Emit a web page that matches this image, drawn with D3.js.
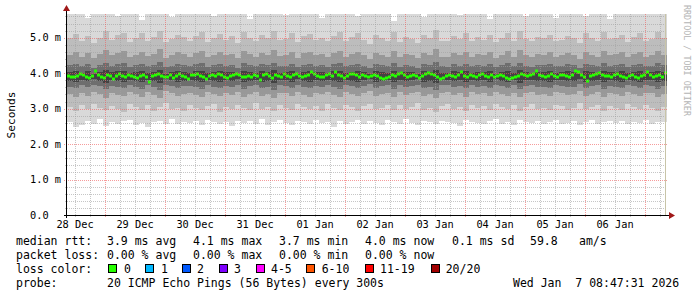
<meta charset="utf-8">
<body></body>
<script src="https://d3js.org/d3.v7.min.js"></script>
<script>
// smokeping style rtt graph, 10 days, 20 pings per step

var startTime = Date.UTC(2025, 11, 28, 8, 47, 31),
    endTime = Date.UTC(2026, 0, 7, 8, 47, 31);

var yTicks = [0, 1, 2, 3, 4, 5];

// median rtt (ms), 200 steps
var median = [
  3.92,3.90,3.88,3.93,3.97,3.95,3.89,3.86,3.91,4.05,3.94,3.90,3.87,3.96,3.92,3.84,3.93,3.98,3.91,3.88,
  3.95,3.92,3.90,3.86,3.93,3.96,3.89,3.75,3.91,3.94,3.97,3.92,3.88,3.90,3.95,3.87,3.93,3.98,3.91,3.89,
  3.85,3.94,3.96,3.99,3.92,3.88,3.84,3.91,3.95,3.93,3.98,3.96,3.90,3.86,3.92,3.95,3.99,3.94,3.90,3.88,
  3.93,3.89,3.96,3.92,3.80,3.94,3.97,3.91,3.87,3.95,3.93,3.90,3.97,3.92,3.88,3.94,3.99,3.93,3.89,3.91,
  3.96,4.02,3.97,3.93,3.90,3.88,3.94,3.98,3.92,4.03,3.95,3.91,3.86,3.93,3.97,3.99,3.94,3.90,3.95,3.92,
  3.89,3.93,3.96,3.92,3.87,3.84,3.86,3.90,3.95,3.93,3.98,4.00,3.94,3.90,3.92,3.96,3.91,3.87,3.93,3.97,
  4.01,3.97,3.94,3.90,3.85,3.87,3.93,3.96,3.92,3.89,3.95,4.04,3.93,3.90,3.96,3.92,3.88,3.94,3.98,3.93,
  3.90,3.94,3.88,3.92,3.96,3.91,3.87,3.83,3.86,3.90,3.93,3.97,3.95,3.91,3.94,3.99,4.06,3.95,3.92,3.90,
  3.93,3.97,3.91,3.88,3.94,3.96,3.92,3.90,3.94,4.07,4.02,3.95,3.89,3.78,3.92,3.96,3.98,4.00,3.95,3.93,
  3.91,3.88,3.94,3.97,3.93,3.90,3.86,3.92,3.95,3.90,3.87,3.93,3.96,4.03,3.94,3.89,3.92,3.95,3.90,4.01
];

// smoke: sorted ping rtt (ms) per step, 100 steps
var ping1 = [
  2.62,2.48,2.55,2.66,2.58,2.70,2.52,2.61,2.57,2.64,2.69,2.55,2.60,2.47,2.63,2.66,2.58,2.71,2.56,2.62,
  2.59,2.65,2.54,2.68,2.61,2.57,2.63,2.50,2.66,2.60,2.64,2.58,2.70,2.55,2.62,2.67,2.59,2.53,2.65,2.61,
  2.56,2.68,2.60,2.63,2.49,2.66,2.58,2.62,2.69,2.57,2.64,2.60,2.55,2.67,2.62,2.58,2.71,2.60,2.54,2.65,
  2.61,2.57,2.66,2.63,2.59,2.52,2.68,2.62,2.60,2.56,2.65,2.70,2.58,2.63,2.55,2.67,2.61,2.59,2.64,2.57,
  2.62,2.68,2.56,2.60,2.65,2.53,2.63,2.69,2.58,2.61,2.66,2.59,2.64,2.57,2.62,2.60,2.67,2.58,2.63,2.61
];
var ping3 = [
  3.05,2.92,3.10,2.98,3.14,3.02,2.95,3.08,3.00,2.90,3.12,3.04,2.97,3.09,2.93,3.06,3.15,2.99,3.03,2.94,
  3.11,3.01,2.96,3.07,3.13,2.91,3.04,2.98,3.10,3.02,2.95,3.16,3.00,3.06,2.92,3.09,3.03,2.97,3.12,3.05,
  2.99,3.08,2.94,3.14,3.01,2.96,3.10,3.04,2.93,3.07,3.13,2.98,3.02,3.09,2.95,3.11,3.00,3.06,3.15,2.97,
  3.03,2.91,3.08,3.12,2.99,3.05,2.94,3.10,3.01,3.07,2.96,3.13,3.04,2.98,3.09,2.92,3.06,3.14,3.00,3.03,
  2.95,3.11,3.07,2.97,3.02,3.16,2.99,3.05,3.10,2.93,3.08,3.01,2.96,3.12,3.04,2.98,3.09,3.03,2.94,3.06
];
var ping5 = [
  3.40,3.33,3.45,3.37,3.48,3.42,3.30,3.44,3.38,3.35,3.47,3.41,3.34,3.46,3.39,3.31,3.49,3.43,3.36,3.42,
  3.45,3.38,3.32,3.47,3.41,3.35,3.44,3.39,3.48,3.33,3.42,3.46,3.37,3.40,3.31,3.45,3.43,3.36,3.48,3.39,
  3.34,3.44,3.40,3.47,3.38,3.32,3.46,3.41,3.35,3.43,3.49,3.37,3.42,3.45,3.33,3.47,3.39,3.44,3.48,3.36,
  3.41,3.30,3.45,3.47,3.38,3.43,3.34,3.46,3.40,3.44,3.37,3.48,3.42,3.35,3.45,3.32,3.43,3.47,3.39,3.41,
  3.36,3.46,3.44,3.38,3.40,3.49,3.35,3.42,3.46,3.33,3.44,3.40,3.37,3.47,3.41,3.36,3.45,3.43,3.34,3.42
];
var ping7 = [
  3.62,3.57,3.66,3.60,3.68,3.63,3.55,3.65,3.61,3.58,3.67,3.62,3.56,3.66,3.60,3.54,3.68,3.64,3.59,3.63,
  3.65,3.60,3.55,3.67,3.62,3.58,3.65,3.61,3.68,3.56,3.63,3.66,3.59,3.62,3.54,3.66,3.64,3.58,3.68,3.61,
  3.57,3.65,3.62,3.67,3.60,3.55,3.66,3.63,3.58,3.64,3.69,3.59,3.63,3.66,3.56,3.67,3.61,3.65,3.68,3.58,
  3.62,3.53,3.66,3.67,3.60,3.64,3.57,3.66,3.62,3.65,3.59,3.68,3.63,3.57,3.66,3.55,3.64,3.67,3.61,3.62,
  3.58,3.66,3.65,3.60,3.62,3.69,3.57,3.63,3.66,3.56,3.65,3.62,3.59,3.67,3.63,3.58,3.66,3.64,3.56,3.63
];
var ping9 = [
  3.79,3.75,3.81,3.77,3.83,3.79,3.73,3.80,3.78,3.76,3.82,3.79,3.74,3.81,3.77,3.72,3.83,3.80,3.76,3.79,
  3.81,3.77,3.74,3.82,3.79,3.75,3.80,3.78,3.83,3.74,3.79,3.81,3.76,3.79,3.73,3.81,3.80,3.75,3.83,3.78,
  3.75,3.80,3.79,3.82,3.77,3.74,3.81,3.79,3.76,3.80,3.84,3.76,3.79,3.81,3.74,3.82,3.78,3.80,3.83,3.76,
  3.79,3.72,3.81,3.82,3.77,3.80,3.75,3.81,3.79,3.80,3.76,3.83,3.79,3.75,3.81,3.73,3.80,3.82,3.78,3.79,
  3.76,3.81,3.80,3.77,3.79,3.84,3.75,3.79,3.81,3.74,3.80,3.79,3.76,3.82,3.79,3.75,3.81,3.80,3.74,3.79
];
var ping12 = [
  4.03,4.06,4.01,4.05,3.99,4.04,4.08,4.02,4.05,4.07,4.00,4.03,4.06,4.01,4.04,4.09,3.99,4.02,4.06,4.03,
  4.01,4.05,4.07,4.00,4.03,4.06,4.02,4.04,3.99,4.07,4.03,4.01,4.05,4.03,4.08,4.01,4.02,4.06,3.99,4.04,
  4.06,4.02,4.03,4.00,4.05,4.07,4.01,4.03,4.06,4.02,3.98,4.05,4.03,4.01,4.07,4.00,4.04,4.02,3.99,4.05,
  4.03,4.09,4.01,4.00,4.05,4.02,4.06,4.01,4.03,4.02,4.05,3.99,4.03,4.06,4.01,4.08,4.02,4.00,4.04,4.03,
  4.05,4.01,4.02,4.05,4.03,3.98,4.06,4.03,4.01,4.07,4.02,4.03,4.05,4.00,4.03,4.06,4.01,4.02,4.07,4.03
];
var ping14 = [
  4.22,4.27,4.19,4.25,4.16,4.23,4.30,4.21,4.26,4.28,4.18,4.22,4.27,4.20,4.24,4.31,4.17,4.21,4.26,4.23,
  4.19,4.25,4.29,4.18,4.22,4.27,4.21,4.24,4.16,4.29,4.22,4.19,4.26,4.22,4.30,4.20,4.21,4.27,4.17,4.24,
  4.27,4.21,4.22,4.18,4.25,4.29,4.19,4.23,4.27,4.21,4.15,4.26,4.22,4.19,4.29,4.18,4.24,4.21,4.16,4.26,
  4.22,4.32,4.19,4.18,4.25,4.21,4.27,4.19,4.23,4.21,4.26,4.17,4.22,4.28,4.19,4.30,4.21,4.18,4.24,4.22,
  4.26,4.19,4.21,4.25,4.22,4.15,4.27,4.22,4.19,4.29,4.21,4.22,4.26,4.18,4.23,4.27,4.19,4.21,4.29,4.22
];
var ping16 = [
  4.52,4.60,4.47,4.57,4.43,4.54,4.66,4.50,4.58,4.62,4.45,4.52,4.61,4.48,4.55,4.68,4.44,4.51,4.59,4.54,
  4.47,4.57,4.63,4.45,4.52,4.60,4.50,4.55,4.42,4.64,4.53,4.47,4.58,4.52,4.66,4.49,4.51,4.61,4.44,4.56,
  4.60,4.50,4.53,4.46,4.57,4.64,4.47,4.54,4.61,4.50,4.41,4.58,4.52,4.47,4.64,4.45,4.55,4.50,4.43,4.58,
  4.52,4.69,4.47,4.46,4.57,4.50,4.61,4.47,4.54,4.50,4.59,4.44,4.52,4.62,4.47,4.66,4.50,4.46,4.55,4.52,
  4.59,4.47,4.50,4.57,4.52,4.41,4.61,4.52,4.47,4.64,4.50,4.53,4.59,4.45,4.54,4.61,4.47,4.50,4.64,4.52
];
var ping18 = [
  4.98,5.10,4.90,5.05,4.86,5.00,5.18,4.95,5.07,5.13,4.88,4.99,5.12,4.92,5.03,5.20,4.87,4.96,5.09,5.01,
  4.91,5.06,5.15,4.89,4.98,5.10,4.95,5.04,4.84,5.16,5.00,4.91,5.07,4.99,5.18,4.94,4.96,5.12,4.87,5.04,
  5.10,4.95,5.00,4.90,5.06,5.15,4.91,5.01,5.12,4.95,4.83,5.08,4.99,4.91,5.16,4.88,5.03,4.96,4.86,5.08,
  4.99,5.21,4.91,4.90,5.06,4.96,5.12,4.91,5.01,4.95,5.09,4.87,4.99,5.14,4.92,5.18,4.96,4.90,5.03,4.99,
  5.09,4.92,4.95,5.06,4.99,4.84,5.12,4.99,4.91,5.15,4.96,5.00,5.09,4.89,5.01,5.12,4.91,4.96,5.15,4.99
];
var ping20 = [
  5.90,5.85,5.92,5.55,5.88,5.95,5.80,5.90,5.62,5.86,5.93,5.88,5.50,5.91,5.84,5.96,5.89,5.58,5.92,5.87,
  5.94,5.83,5.90,5.88,5.60,5.92,5.86,5.95,5.89,5.84,5.52,5.91,5.88,5.93,5.85,5.90,5.64,5.87,5.92,5.89,
  5.86,5.94,5.57,5.90,5.88,5.83,5.92,5.95,5.61,5.87,5.90,5.84,5.93,5.89,5.48,5.91,5.86,5.94,5.88,5.59,
  5.92,5.87,5.90,5.85,5.93,5.63,5.89,5.91,5.86,5.95,5.54,5.88,5.92,5.84,5.90,5.87,5.60,5.93,5.89,5.86,
  5.91,5.56,5.88,5.94,5.85,5.90,5.62,5.87,5.92,5.89,5.53,5.86,5.93,5.88,5.91,5.84,5.66,5.90,5.87,5.92
];

var lossColors = ["#26ff00", "#00b8ff", "#0059ff", "#7e00ff", "#ff00ff", "#ff5500", "#ff0000", "#a10000"];
var lossLabels = ["0", "1", "2", "3", "4-5", "6-10", "11-19", "20/20"];

var W = 697, H = 297;
var pL = 67, pR = 667, pT = 14, pB = 215;
var mono = "'DejaVu Sans Mono', monospace";

var svg = d3.select("body").style("margin", 0).append("svg")
  .attr("width", W)
  .attr("height", H)
  .style("display", "block")
  .style("background", "#fff");

var x = d3.scaleUtc().domain([startTime, endTime]).range([pL, pR]);
var y = d3.scaleLinear().domain([0, (pB - pT) / 35.45]).range([pB, pT]);

svg.append("clipPath").attr("id", "plot")
  .append("rect").attr("x", pL).attr("y", pT).attr("width", pR - pL).attr("height", pB - pT);

var g = svg.append("g").attr("clip-path", "url(#plot)");

// smoke, outermost pair first, darker pairs on top
var lows = [ping1, ping3, ping5, ping7, ping9],
    highs = [ping20, ping18, ping16, ping14, ping12],
    shades = ["#d9d9d9", "#bdbdbd", "#989898", "#6e6e6e", "#434343"];
var smokeStep = (endTime - startTime) / ping1.length;

lows.forEach(function(lo, k) {
  g.append("g").selectAll("rect")
    .data(lo)
    .enter().append("rect")
    .attr("x", function(d, i) { return x(startTime + i * smokeStep); })
    .attr("width", function(d, i) { return x(startTime + (i + 1) * smokeStep) - x(startTime + i * smokeStep); })
    .attr("y", function(d, i) { return y(highs[k][i]); })
    .attr("height", function(d, i) { return y(d) - y(highs[k][i]); })
    .attr("fill", shades[k])
    .attr("shape-rendering", "crispEdges");
});

// median, coloured by loss (no loss here)
var medStep = (endTime - startTime) / median.length;
g.append("g").selectAll("rect")
  .data(median)
  .enter().append("rect")
  .attr("x", function(d, i) { return x(startTime + i * medStep); })
  .attr("width", function(d, i) { return x(startTime + (i + 1) * medStep) - x(startTime + i * medStep); })
  .attr("y", function(d) { return Math.round(y(d)) - 1.5; })
  .attr("height", 3)
  .attr("fill", lossColors[0]);

// grid on top
var grid = svg.append("g").attr("shape-rendering", "crispEdges");
var minorX = d3.utcHour.every(6).range(new Date(startTime), new Date(endTime)),
    majorX = d3.utcDay.range(new Date(startTime), new Date(endTime)),
    minorY = d3.range(0.2, y.domain()[1], 0.2).filter(function(v) { return Math.abs(v - Math.round(v)) > 0.01; });

grid.selectAll(".mx").data(minorX.filter(function(t) { return t.getUTCHours() != 0; }))
  .enter().append("line")
  .attr("x1", function(d) { return Math.round(x(d)) + 0.5; })
  .attr("x2", function(d) { return Math.round(x(d)) + 0.5; })
  .attr("y1", pT).attr("y2", pB + 2)
  .attr("stroke", "rgba(160,160,160,0.6)").attr("stroke-dasharray", "1,1");

grid.selectAll(".my").data(minorY)
  .enter().append("line")
  .attr("x1", pL - 2).attr("x2", pR)
  .attr("y1", function(d) { return Math.round(y(d)) + 0.5; })
  .attr("y2", function(d) { return Math.round(y(d)) + 0.5; })
  .attr("stroke", "rgba(160,160,160,0.6)").attr("stroke-dasharray", "1,1");

grid.selectAll(".Mx").data(majorX)
  .enter().append("line")
  .attr("x1", function(d) { return Math.round(x(d)) + 0.5; })
  .attr("x2", function(d) { return Math.round(x(d)) + 0.5; })
  .attr("y1", pT).attr("y2", pB + 3)
  .attr("stroke", "rgba(240,90,90,0.6)").attr("stroke-dasharray", "1,1");

grid.selectAll(".My").data(yTicks.slice(1))
  .enter().append("line")
  .attr("x1", pL - 3).attr("x2", pR)
  .attr("y1", function(d) { return Math.round(y(d)) + 0.5; })
  .attr("y2", function(d) { return Math.round(y(d)) + 0.5; })
  .attr("stroke", "rgba(240,90,90,0.6)").attr("stroke-dasharray", "1,1");

// right edge line
svg.append("line")
  .attr("x1", pR - 1.5).attr("x2", pR - 1.5)
  .attr("y1", pT).attr("y2", pB)
  .attr("stroke", "#c8c4a8");

// axes
svg.append("line").attr("x1", pL - 3).attr("x2", pR + 2)
  .attr("y1", pB + 0.5).attr("y2", pB + 0.5).attr("stroke", "#000");
svg.append("line").attr("x1", pL - 0.5).attr("x2", pL - 0.5)
  .attr("y1", pB + 3).attr("y2", pT - 3).attr("stroke", "#000");
svg.append("path").attr("d", "M" + (pR + 2) + "," + (pB - 3) + "L" + (pR + 8) + "," + (pB + 0.5) + "L" + (pR + 2) + "," + (pB + 4) + "Z")
  .attr("fill", "#a01818");
svg.append("path").attr("d", "M" + (pL - 4) + "," + (pT - 3) + "L" + (pL - 0.5) + "," + (pT - 9) + "L" + (pL + 3) + "," + (pT - 3) + "Z")
  .attr("fill", "#a01818");

// tick labels
svg.append("g").selectAll("text")
  .data(yTicks)
  .enter().append("text")
  .attr("x", 30)
  .attr("y", function(d) { return y(d) + 3.5; })
  .style("font", "10.3px " + mono)
  .attr("fill", "#000")
  .text(function(d) { return d === 0 ? "0.0" : d.toFixed(1) + " m"; });

var fmt = d3.utcFormat("%d %b");
svg.append("g").selectAll("text")
  .data(majorX)
  .enter().append("text")
  .attr("x", function(d) { return x(new Date(+d - 12 * 3600e3)); })
  .attr("y", 228)
  .attr("text-anchor", "middle")
  .style("font", "10.3px " + mono)
  .text(function(d) { return fmt(new Date(+d - 12 * 3600e3)); });

svg.append("text")
  .attr("transform", "translate(15,115) rotate(-90)")
  .attr("text-anchor", "middle")
  .style("font", "11.2px " + mono)
  .text("Seconds");

svg.append("text")
  .attr("transform", "translate(684,5) rotate(90)")
  .style("font", "8.4px " + mono)
  .attr("fill", "#b4b4b4")
  .text("RRDTOOL / TOBI OETIKER");

// legend
var legendRows = [
  [[16, "median rtt:"], [107, "3.9 ms avg"], [193, "4.1 ms max"], [279, "3.7 ms min"], [365, "4.0 ms now"], [452, "0.1 ms sd"], [530, "59.8"], [579, "am/s"]],
  [[16, "packet loss:"], [107, "0.00 % avg"], [193, "0.00 % max"], [279, "0.00 % min"], [365, "0.00 % now"]],
  [[16, "loss color:"]],
  [[16, "probe:"], [107, "20 ICMP Echo Pings (56 Bytes) every 300s"], [513, "Wed Jan  7 08:47:31 2026"]]
];
var rowY = [245, 259, 273, 287];

legendRows.forEach(function(row, r) {
  svg.append("g").selectAll("text")
    .data(row)
    .enter().append("text")
    .attr("x", function(d) { return d[0]; })
    .attr("y", rowY[r])
    .style("font", "11.5px " + mono)
    .style("white-space", "pre")
    .text(function(d) { return d[1]; });
});

var boxX = [108.5, 145.5, 182.5, 219.5, 256.5, 306.5, 365.5, 431.5],
    lblX = [124, 161, 197, 234, 271, 321.7, 380, 445.7];
var lg = svg.append("g").selectAll("g")
  .data(lossLabels)
  .enter().append("g");
lg.append("rect")
  .attr("x", function(d, i) { return boxX[i]; })
  .attr("y", 264.5)
  .attr("width", 8).attr("height", 8)
  .attr("fill", function(d, i) { return lossColors[i]; })
  .attr("stroke", "#000");
lg.append("text")
  .attr("x", function(d, i) { return lblX[i]; })
  .attr("y", rowY[2])
  .style("font", "11.5px " + mono)
  .text(function(d) { return d; });
</script>
